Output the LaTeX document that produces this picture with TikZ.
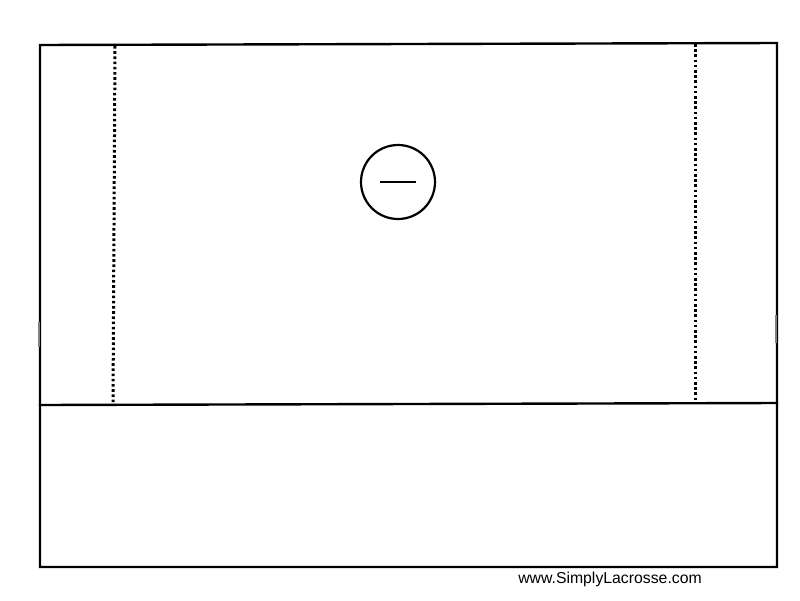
\documentclass[tikz,border=0pt]{standalone}
\usepackage{fontspec}
\setmainfont{Liberation Sans}
\begin{document}
\begin{tikzpicture}[x=1pt,y=-1pt,
  fieldline/.style={line width=2.4pt,line cap=rect},
  dotline/.style={line width=3pt,dash pattern=on 2.6pt off 2.6pt},
  tick/.style={line width=1.2pt,gray},
  player/.style={circle,draw,line width=2.2pt,minimum size=74pt,inner sep=0pt}]
\useasboundingbox (0,0) rectangle (800,600);
\coordinate (tl) at (40,45);
\coordinate (tr) at (777,43);
\coordinate (bl) at (40,567);
\coordinate (br) at (777,567);
\coordinate (ml) at (40,405);
\coordinate (mr) at (777,403);
\draw[fieldline] (tl) -- (tr) -- (br) -- (bl) -- cycle;
\draw[fieldline] (ml) -- (mr);
\coordinate (d1a) at (115,46);
\coordinate (d1b) at (113,404);
\coordinate (d2a) at (695,44);
\coordinate (d2b) at (695,402);
\draw[dotline] (d1a) -- (d1b);
\draw[dotline] (d2a) -- (d2b);
\coordinate (t1a) at (39,322);
\coordinate (t1b) at (39,347);
\coordinate (t2a) at (776,315);
\coordinate (t2b) at (776,343);
\draw[tick] (t1a) -- (t1b);
\draw[tick] (t2a) -- (t2b);
\node[player] (p) at (398,182) {};
\draw[line width=2.8pt] ([xshift=-18pt]p.center) -- ([xshift=18pt]p.center);
\node[anchor=base,font=\fontsize{15.8}{18}\selectfont] (web) at (610,583) {www.SimplyLacrosse.com};
\end{tikzpicture}
\end{document}
